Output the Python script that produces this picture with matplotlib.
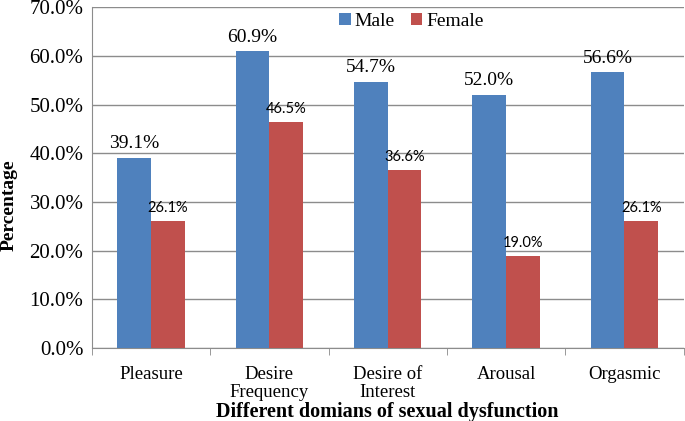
import numpy as np
import matplotlib.pyplot as plt

categories = ['Pleasure', 'Desire\nFrequency', 'Desire of\nInterest', 'Arousal', 'Orgasmic']
male = [39.1, 60.9, 54.7, 52.0, 56.6]
female = [26.1, 46.5, 36.6, 19.0, 26.1]

male_color = '#4F81BD'
female_color = '#C0504D'

fig = plt.figure(figsize=(6.85, 4.21), dpi=100)
ax = fig.add_axes([0.134, 0.173, 0.864, 0.81])

x = np.arange(len(categories))
w = 0.285
ax.bar(x - w / 2, male, w, color=male_color, label='Male', zorder=3)
ax.bar(x + w / 2, female, w, color=female_color, label='Female', zorder=3)

for xi, v in zip(x, male):
    ax.text(xi - w / 2, v + 1.2, f'{v:.1f}%', ha='center', va='bottom',
            fontsize=14, family='Liberation Serif')
for xi, v in zip(x, female):
    ax.text(xi + w / 2, v + 1.2, f'{v:.1f}%', ha='center', va='bottom',
            fontsize=10.5, family='Lato')

ax.set_xlim(-0.5, len(categories) - 0.5)
ax.set_ylim(0, 70)
ax.set_yticks(np.arange(0, 71, 10))
ax.set_yticklabels([f'{t:.1f}%' for t in np.arange(0, 71, 10)],
                   family='Liberation Serif', fontsize=15)
ax.set_xticks(x)
ax.set_xticklabels(categories, family='Liberation Serif', fontsize=13.5,
                   linespacing=1.05)
ax.set_xticks(np.arange(-0.5, len(categories)), minor=True)
ax.tick_params(axis='x', which='major', length=0, pad=13)
ax.tick_params(axis='x', which='minor', length=5, color='#888888')
ax.tick_params(axis='y', length=0, pad=6)
ax.yaxis.grid(True, color='#8c8c8c', linewidth=1.0, zorder=0)
for side in ['top', 'right']:
    ax.spines[side].set_visible(False)
ax.spines['left'].set_color('#8c8c8c')
ax.spines['bottom'].set_color('#8c8c8c')

ax.set_ylabel('Percentage', family='Liberation Serif', fontsize=14,
              fontweight='bold')
ax.yaxis.set_label_coords(-0.125, 0.42)
ax.set_xlabel('Different domians of sexual dysfunction', family='Liberation Serif',
              fontsize=14.5, fontweight='bold', labelpad=1)

ax.legend(loc='upper center', bbox_to_anchor=(0.54, 1.035), ncol=2, frameon=False,
          prop={'family': 'Liberation Serif', 'size': 14}, handlelength=0.6,
          handleheight=0.6, handletextpad=0.2, columnspacing=0.8)

fig.savefig('out.png', dpi=100)
